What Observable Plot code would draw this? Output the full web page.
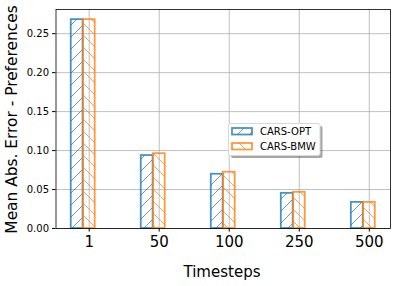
<!DOCTYPE html>
<html><head><meta charset="utf-8">
<script src="https://cdn.jsdelivr.net/npm/d3@7"></script>
<script src="https://cdn.jsdelivr.net/npm/@observablehq/plot@0.6"></script>
<style>body{margin:0;background:#fff;} #chart{width:397px;height:286px;}</style>
</head><body><div id="chart"></div>
<script>
const timesteps = ["1", "50", "100", "250", "500"];
const carsOpt = [0.268, 0.0936, 0.0696, 0.0451, 0.0335];
const carsBmw = [0.268, 0.096, 0.0722, 0.0464, 0.0335];
const seriesNames = ["CARS-OPT", "CARS-BMW"];
const yTicks = [0, 0.05, 0.10, 0.15, 0.20, 0.25];
const xLabel = "Timesteps";
const yLabel = "Mean Abs. Error - Preferences";

const blue = "#1f77b4", orange = "#ff7f0e";
const barW = 0.171;
const idx = timesteps.map((_, i) => i);
const optRows = idx.map(i => ({x1: i - 1.5 * barW, x2: i - 0.5 * barW, y: carsOpt[i]}));
const bmwRows = idx.map(i => ({x1: i - 0.5 * barW, x2: i + 0.5 * barW, y: carsBmw[i]}));

const W = 397, H = 286, mL = 55.5, mR = 7, mT = 9, mB = 58;

const plot = Plot.plot({
  width: W, height: H,
  marginLeft: mL, marginRight: mR, marginTop: mT, marginBottom: mB,
  style: {fontFamily: "DejaVu Sans, sans-serif", background: "#fff", color: "#000"},
  x: {domain: [-0.474, 4.303], label: null},
  y: {domain: [0, 0.281], label: null},
  marks: [
    Plot.gridY(yTicks, {stroke: "#b0b0b0", strokeOpacity: 1, strokeWidth: 0.8}),
    Plot.gridX(idx, {stroke: "#b0b0b0", strokeOpacity: 1, strokeWidth: 0.8}),
    Plot.rectY(optRows, {x1: "x1", x2: "x2", y1: 0, y2: "y", fill: "url(#hatchOpt)", stroke: blue, strokeOpacity: 0.8, strokeWidth: 1.8}),
    Plot.rectY(bmwRows, {x1: "x1", x2: "x2", y1: 0, y2: "y", fill: "url(#hatchBmw)", stroke: orange, strokeOpacity: 0.8, strokeWidth: 1.8}),
    Plot.axisY(yTicks, {tickFormat: d => d.toFixed(2), fontSize: 10, tickSize: 3.5, tickPadding: 3.5, label: null}),
    Plot.axisX(idx, {tickFormat: i => timesteps[i], fontSize: 15, tickSize: 3.5, tickPadding: 4, label: null}),
    Plot.frame({stroke: "#000", strokeWidth: 0.8})
  ]
});

const svg = d3.select(plot);
const defs = svg.insert("defs", ":first-child");
function hatch(id, color, dir) {
  const p = defs.append("pattern").attr("id", id).attr("patternUnits", "userSpaceOnUse")
    .attr("width", 12).attr("height", 12);
  const g = p.append("g").attr("stroke", color).attr("stroke-opacity", 0.8).attr("stroke-width", 0.9);
  if (dir > 0) {
    g.append("line").attr("x1", 0).attr("y1", 12).attr("x2", 12).attr("y2", 0);
    g.append("line").attr("x1", -6).attr("y1", 6).attr("x2", 6).attr("y2", -6);
    g.append("line").attr("x1", 6).attr("y1", 18).attr("x2", 18).attr("y2", 6);
  } else {
    g.append("line").attr("x1", 0).attr("y1", 0).attr("x2", 12).attr("y2", 12);
    g.append("line").attr("x1", -6).attr("y1", 6).attr("x2", 6).attr("y2", 18);
    g.append("line").attr("x1", 6).attr("y1", -6).attr("x2", 18).attr("y2", 6);
  }
}
hatch("hatchOpt", blue, 1);
hatch("hatchBmw", orange, -1);

// axis labels
svg.append("text").attr("x", 222).attr("y", 277).attr("text-anchor", "middle")
  .attr("font-size", 15).attr("font-family", "DejaVu Sans, sans-serif").attr("fill", "#000").text(xLabel);
svg.append("text").attr("transform", `translate(17,119.5) rotate(-90)`).attr("text-anchor", "middle")
  .attr("font-size", 15.4).attr("font-family", "DejaVu Sans, sans-serif").attr("fill", "#000").text(yLabel);

// legend
const lg = svg.append("g").attr("font-family", "DejaVu Sans, sans-serif").attr("text-anchor", "start");
const lx = 228.5, ly = 123.5, lw = 91.5, lh = 32;
lg.append("rect").attr("x", lx + 2.5).attr("y", ly + 2.5).attr("width", lw).attr("height", lh).attr("rx", 2)
  .attr("fill", "#000").attr("fill-opacity", 0.35);
lg.append("rect").attr("x", lx).attr("y", ly).attr("width", lw).attr("height", lh).attr("rx", 2)
  .attr("fill", "#fff").attr("stroke", "#d8d8d8").attr("stroke-width", 1);
[["hatchOpt", blue], ["hatchBmw", orange]].forEach(([id, c], k) => {
  const y0 = ly + 4.5 + k * 15;
  lg.append("rect").attr("x", lx + 3.5).attr("y", y0).attr("width", 20).attr("height", 6.5)
    .attr("fill", `url(#${id})`).attr("stroke", c).attr("stroke-opacity", 0.8).attr("stroke-width", 1.8);
  lg.append("text").attr("x", lx + 31.5).attr("y", y0 + 7.2).attr("font-size", 10).attr("fill", "#000")
    .attr("text-anchor", "start").text(seriesNames[k]);
});

document.getElementById("chart").appendChild(plot);
</script>
</body></html>
